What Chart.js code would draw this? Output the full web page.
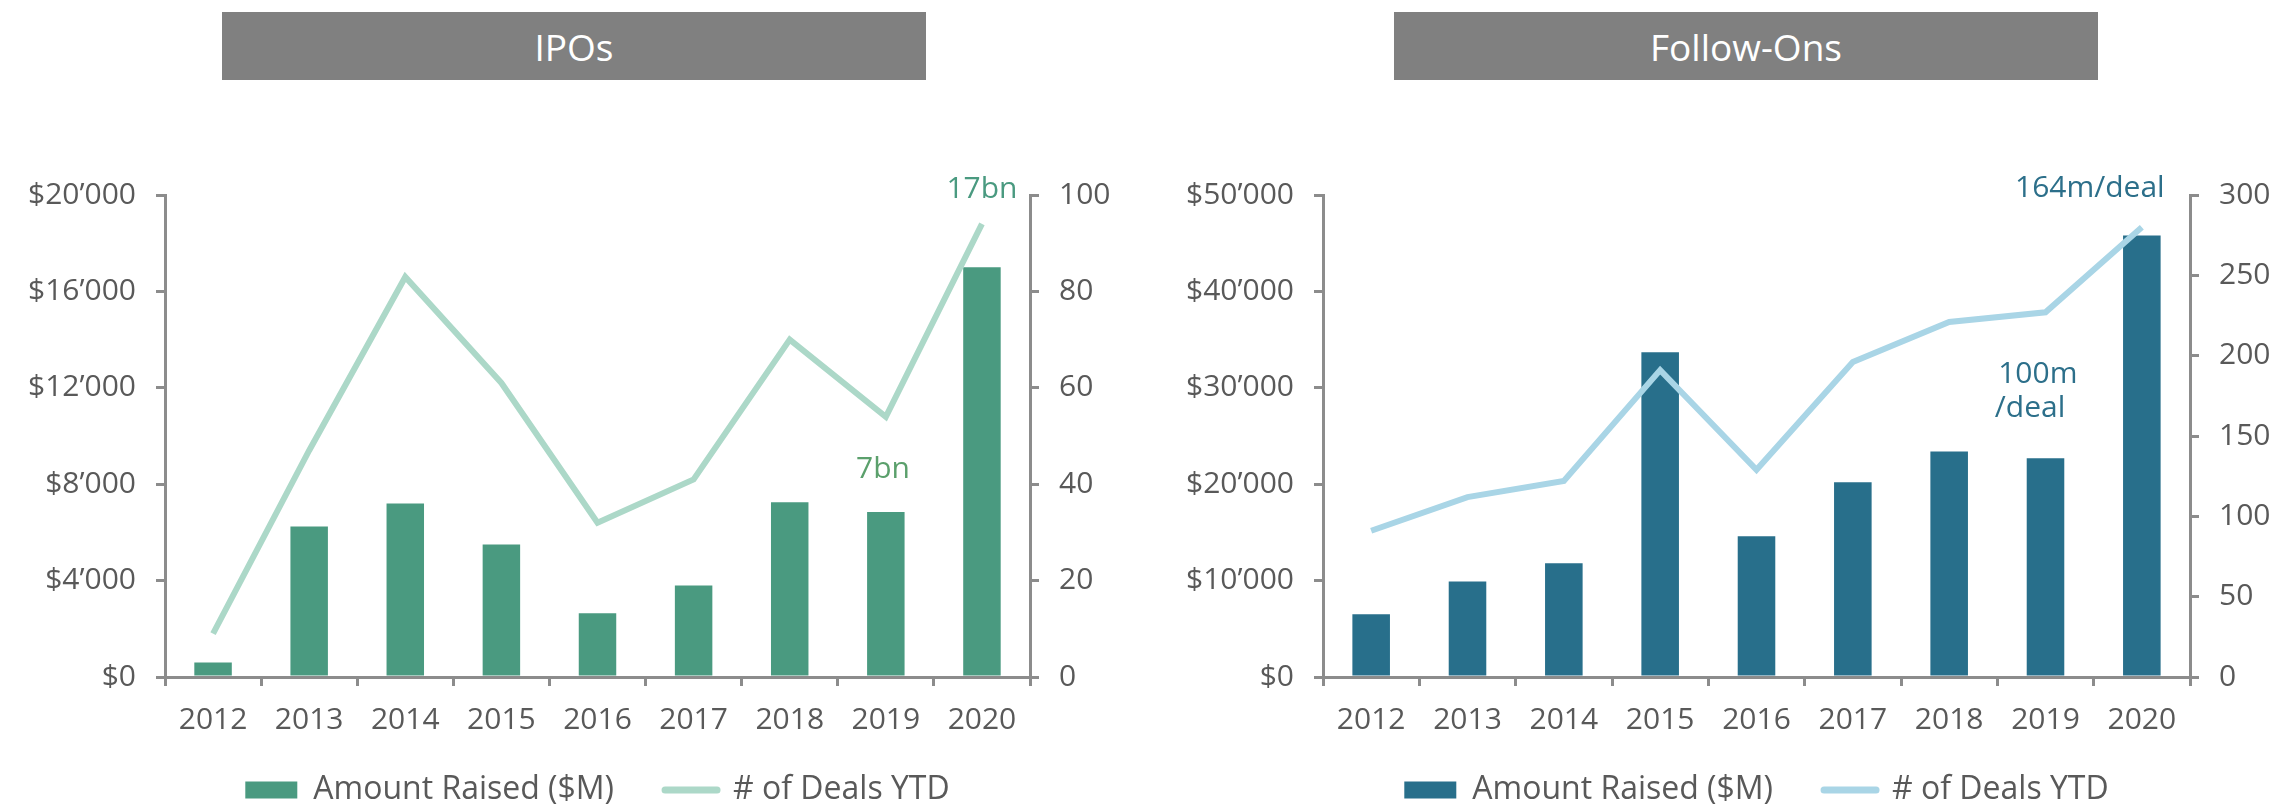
<!DOCTYPE html>
<html>
<head>
<meta charset="utf-8">
<script src="https://cdn.jsdelivr.net/npm/chart.js@4.4.0/dist/chart.umd.min.js"></script>
<style>
  html, body { margin: 0; padding: 0; background: #fff; width: 2280px; height: 804px; overflow: hidden; }
  .head { position: absolute; top: 12px; height: 68px; width: 704px; background: #808080; color: #fff;
          font: 37px "Open Sans", sans-serif; display: flex; align-items: center; justify-content: center; }
  .wrap { position: absolute; top: 100px; height: 740px; }
</style>
</head>
<body>
<div class="head" style="left:222px">IPOs</div>
<div class="head" style="left:1394px">Follow-Ons</div>
<div class="wrap" style="left:0; width:1150px"><canvas id="ipoChart"></canvas></div>
<div class="wrap" style="left:1150px; width:1130px"><canvas id="foChart"></canvas></div>
<script>
const years = ['2012', '2013', '2014', '2015', '2016', '2017', '2018', '2019', '2020'];

// IPOs
const ipoAmount = [600, 6250, 7200, 5500, 2650, 3800, 7250, 6850, 17000];
const ipoDeals = [9, 47, 83, 61, 32, 41, 70, 54, 94];
const ipoAmountTicks = [0, 4000, 8000, 12000, 16000, 20000];
const ipoDealTicks = [0, 20, 40, 60, 80, 100];

// Follow-ons
const foAmount = [6500, 9900, 11800, 33700, 14600, 20200, 23400, 22700, 45800];
const foDeals = [91, 112, 122, 191, 129, 196, 221, 227, 280];
const foAmountTicks = [0, 10000, 20000, 30000, 40000, 50000];
const foDealTicks = [0, 50, 100, 150, 200, 250, 300];

const labelGrey = '#595959';
const axisGrey = '#8c8c8c';
const font = { family: 'Open Sans', size: 30 };

const money = v => '$' + v.toLocaleString('en-US').replace(/,/g, '\u2019');

function notesPlugin(notes) {
  return {
    id: 'notes',
    afterDatasetsDraw(chart) {
      const { ctx, scales } = chart;
      ctx.save();
      ctx.font = '30px "Open Sans"';
      ctx.textBaseline = 'middle';
      ctx.textAlign = 'center';
      notes.forEach(n => {
        ctx.fillStyle = n.color;
        ctx.fillText(n.text, scales.x.getPixelForValue(n.x), scales.y.getPixelForValue(n.y));
      });
      ctx.restore();
    }
  };
}

// pull the legend a bit closer to the year labels
const legendLift = {
  id: 'legendLift',
  afterLayout(chart) {
    chart.legend.top -= 15;
    chart.legend.bottom -= 15;
  }
};

function axis(position, ticks, width, fmt) {
  return {
    position,
    min: ticks[0],
    max: ticks[ticks.length - 1],
    grid: { drawOnChartArea: false, tickLength: 9, color: axisGrey, lineWidth: 3 },
    border: { color: axisGrey, width: 3 },
    ticks: { stepSize: ticks[1] - ticks[0], padding: 20, font, color: labelGrey, callback: fmt },
    afterFit: s => { s.width = width; }
  };
}

function makeChart(id, amount, deals, barColor, lineColor, amountTicks, dealTicks, leftW, rightW, notes) {
  new Chart(document.getElementById(id), {
    data: {
      labels: years,
      datasets: [
        { type: 'bar', label: 'Amount Raised ($M)', data: amount, backgroundColor: barColor,
          yAxisID: 'y', categoryPercentage: 1, barPercentage: 0.39, pointStyle: 'rect', order: 0 },
        { type: 'line', label: '# of Deals YTD', data: deals, borderColor: lineColor, backgroundColor: lineColor,
          borderWidth: 6, tension: 0, pointRadius: 0, pointHoverRadius: 0, pointStyle: 'line',
          pointBorderColor: lineColor, pointBorderWidth: 7, yAxisID: 'y1', order: -1 }
      ]
    },
    options: {
      responsive: true,
      maintainAspectRatio: false,
      animation: false,
      layout: { padding: { top: 95, bottom: 9, left: 0, right: 0 } },
      plugins: {
        tooltip: { enabled: false },
        legend: {
          position: 'bottom',
          fullSize: false,
          labels: {
            usePointStyle: true, pointStyleWidth: 52, boxHeight: 17, padding: 51,
            font: { family: 'Open Sans', size: 32 }, color: labelGrey,
            sort: (a, b) => a.datasetIndex - b.datasetIndex,
            generateLabels: chart => Chart.defaults.plugins.legend.labels.generateLabels(chart)
              .map(l => Object.assign(l, { lineCap: 'round' }))
          }
        }
      },
      scales: {
        x: {
          grid: { drawOnChartArea: false, tickLength: 9, color: axisGrey, lineWidth: 3, offset: true },
          border: { color: axisGrey, width: 3 },
          ticks: { font, color: labelGrey, padding: 16, maxRotation: 0, autoSkip: false },
          afterFit: s => { s.height = 61; }
        },
        y: axis('left', amountTicks, leftW, money),
        y1: axis('right', dealTicks, rightW, v => v)
      }
    },
    plugins: [notesPlugin(notes), legendLift]
  });
}

makeChart('ipoChart', ipoAmount, ipoDeals, '#4a9a80', '#acd8c8', ipoAmountTicks, ipoDealTicks, 165, 120, [
  { text: '17bn', x: 8, y: 20250, color: '#4a9a80' },
  { text: '7bn', x: 6.97, y: 8630, color: '#5ba06c' }
]);

makeChart('foChart', foAmount, foDeals, '#286f8b', '#a9d5e6', foAmountTicks, foDealTicks, 173, 90, [
  { text: '164m/deal', x: 7.46, y: 50700, color: '#2c6f8a' },
  { text: '100m', x: 6.92, y: 31430, color: '#2c6f8a' },
  { text: '/deal', x: 6.84, y: 27900, color: '#2c6f8a' }
]);
</script>
</body>
</html>
